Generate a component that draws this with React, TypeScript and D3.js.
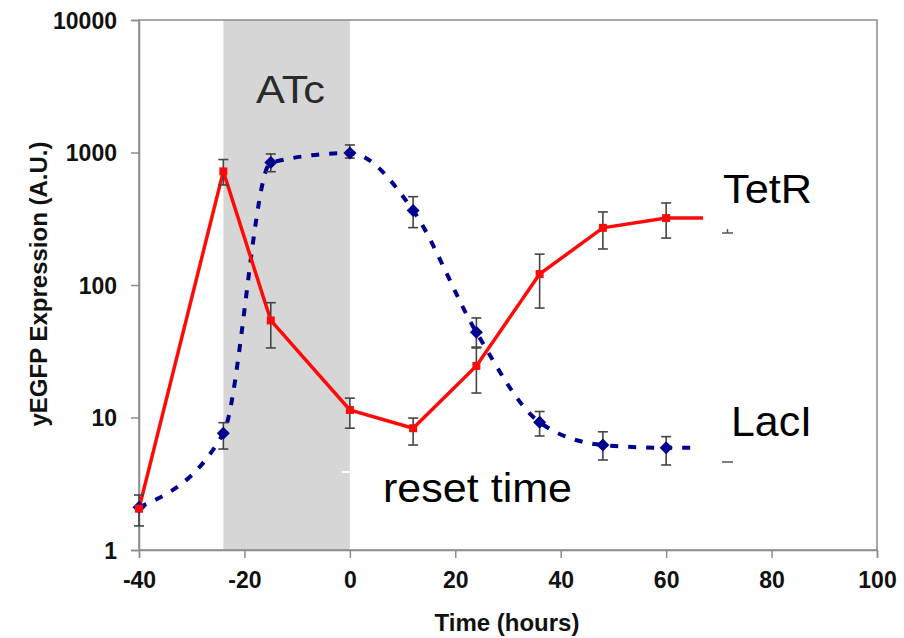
import React, { useEffect, useRef } from 'react'

import * as d3 from 'd3'

// hours, values
const tetRTime = [-40, -24, -15, 0, 12, 24, 36, 48, 60]
const tetRValue = [2.05, 720, 54, 11.4, 8.3, 24.5, 121, 270, 320]
const tetRLow = [1.52, 569, 33.5, 8.3, 6.2, 15.3, 67, 187, 226]
const tetRHigh = [2.6, 885, 73.5, 14.0, 9.9, 33.5, 171, 356, 416]

const lacITime = [-40, -24, -15, 0, 12, 24, 36, 48, 60]
const lacIValue = [2.1, 7.6, 840, 990, 365, 44, 9.2, 6.2, 5.9]
const lacILow = [null, 5.78, 716, 908, 271, 34, 7.25, 4.78, 4.38]
const lacIHigh = [null, 9.14, 975, 1140, 464, 56.4, 11.1, 7.8, 7.17]

// the lines run on a little past the last marker
const tetRTail = [67, 320]
const lacITail = [66, 5.9]

const xTicks = [-40, -20, 0, 20, 40, 60, 80, 100]
const yTicks = [1, 10, 100, 1000, 10000]
const atcWindow = [-24, 0]

const Chart = () => {
  const svgRef = useRef(null)

  useEffect(() => {
    if (!svgRef.current) return
    const svg = d3.select(svgRef.current)
    svg.selectAll('*').remove()

    const x = d3.scaleLinear().domain([-40, 100]).range([139, 877])
    const y = d3.scaleLog().domain([1, 10000]).range([550, 20])
    const font = "'Liberation Sans', Arial, sans-serif"
    const axisGray = '#8c8c8c'

    // ATc shading
    svg
      .append('rect')
      .attr('x', x(atcWindow[0]))
      .attr('y', y(10000))
      .attr('width', x(atcWindow[1]) - x(atcWindow[0]))
      .attr('height', y(1) - y(10000))
      .attr('fill', '#d6d6d6')

    // frame
    svg
      .append('rect')
      .attr('x', x(-40))
      .attr('y', y(10000))
      .attr('width', x(100) - x(-40))
      .attr('height', y(1) - y(10000))
      .attr('fill', 'none')
      .attr('stroke', axisGray)
      .attr('stroke-width', 1.5)

    const yAxis = d3
      .axisLeft(y)
      .tickValues(yTicks)
      .tickFormat((d) => String(d))
      .tickSize(8)
      .tickPadding(14)
    svg
      .append('g')
      .attr('transform', `translate(${x(-40)},0)`)
      .call(yAxis)
      .call((g) => g.select('.domain').attr('stroke', axisGray).attr('stroke-width', 1.5))
      .call((g) => g.selectAll('.tick line').attr('stroke', axisGray).attr('stroke-width', 1.5))
      .call((g) =>
        g
          .selectAll('.tick text')
          .attr('fill', '#111')
          .style('font-family', font)
          .style('font-size', '23px')
          .style('font-weight', 'bold')
          .attr('dy', '0.36em')
      )

    const xAxis = d3
      .axisBottom(x)
      .tickValues(xTicks)
      .tickFormat((d) => String(d))
      .tickSize(8)
      .tickPadding(14)
    svg
      .append('g')
      .attr('transform', `translate(0,${y(1)})`)
      .call(xAxis)
      .call((g) => g.select('.domain').attr('stroke', axisGray).attr('stroke-width', 1.5))
      .call((g) => g.selectAll('.tick line').attr('stroke', axisGray).attr('stroke-width', 1.5))
      .call((g) =>
        g
          .selectAll('.tick text')
          .attr('fill', '#111')
          .style('font-family', font)
          .style('font-size', '23px')
          .style('font-weight', 'bold')
      )

    svg
      .append('text')
      .attr('x', 507)
      .attr('y', 631)
      .attr('text-anchor', 'middle')
      .style('font-family', font)
      .style('font-size', '24px')
      .style('font-weight', 'bold')
      .attr('fill', '#111')
      .text('Time (hours)')

    svg
      .append('text')
      .attr('transform', 'translate(47,284) rotate(-90)')
      .attr('text-anchor', 'middle')
      .style('font-family', font)
      .style('font-size', '24px')
      .style('font-weight', 'bold')
      .attr('fill', '#111')
      .text('yEGFP Expression (A.U.)')

    const tetR = tetRTime.map((t, i) => ({ t, v: tetRValue[i], lo: tetRLow[i], hi: tetRHigh[i] }))
    const lacI = lacITime.map((t, i) => ({ t, v: lacIValue[i], lo: lacILow[i], hi: lacIHigh[i] }))

    // LacI: smoothed dashed navy line
    const lacLine = d3
      .line()
      .x((d) => x(d[0]))
      .y((d) => y(d[1]))
      .curve(d3.curveMonotoneX)
    svg
      .append('path')
      .datum([...lacI.map((d) => [d.t, d.v]), lacITail])
      .attr('d', lacLine)
      .attr('fill', 'none')
      .attr('stroke', '#00008f')
      .attr('stroke-width', 4)
      .attr('stroke-dasharray', '8,10')

    // TetR: straight red line
    const tetLine = d3
      .line()
      .x((d) => x(d[0]))
      .y((d) => y(d[1]))
    svg
      .append('path')
      .datum([...tetR.map((d) => [d.t, d.v]), tetRTail])
      .attr('d', tetLine)
      .attr('fill', 'none')
      .attr('stroke', '#ff0a0a')
      .attr('stroke-width', 3.5)

    // error bars
    const drawErrors = (data) => {
      const g = svg.append('g').attr('stroke', '#444').attr('stroke-width', 1.6)
      data
        .filter((d) => d.lo != null)
        .forEach((d) => {
          const cx = x(d.t)
          g.append('line').attr('x1', cx).attr('x2', cx).attr('y1', y(d.lo)).attr('y2', y(d.hi))
          g.append('line').attr('x1', cx - 5).attr('x2', cx + 5).attr('y1', y(d.lo)).attr('y2', y(d.lo))
          g.append('line').attr('x1', cx - 5).attr('x2', cx + 5).attr('y1', y(d.hi)).attr('y2', y(d.hi))
        })
    }
    drawErrors(lacI)
    drawErrors(tetR)

    // markers
    svg
      .append('g')
      .selectAll('path')
      .data(lacI)
      .join('path')
      .attr('transform', (d) => `translate(${x(d.t)},${y(d.v)})`)
      .attr('d', 'M0,-6.5L6.5,0L0,6.5L-6.5,0Z')
      .attr('fill', '#00008f')

    svg
      .append('g')
      .selectAll('rect')
      .data(tetR)
      .join('rect')
      .attr('x', (d) => x(d.t) - 4)
      .attr('y', (d) => y(d.v) - 4)
      .attr('width', 8)
      .attr('height', 8)
      .attr('fill', '#ff0a0a')

    // little legend leftovers
    svg.append('line').attr('x1', 722).attr('x2', 733).attr('y1', 233).attr('y2', 233).attr('stroke', '#555').attr('stroke-width', 1.5)
    svg.append('line').attr('x1', 727.5).attr('x2', 727.5).attr('y1', 229).attr('y2', 233).attr('stroke', '#555').attr('stroke-width', 1.5)
    svg.append('line').attr('x1', 722).attr('x2', 733).attr('y1', 462).attr('y2', 462).attr('stroke', '#555').attr('stroke-width', 1.5)
    svg.append('line').attr('x1', 342).attr('x2', 350).attr('y1', 472).attr('y2', 472).attr('stroke', '#fff').attr('stroke-width', 2)

    const label = (txt, px, py, size, color, len) => {
      const t = svg
        .append('text')
        .attr('x', px)
        .attr('y', py)
        .style('font-family', font)
        .style('font-size', `${size}px`)
        .attr('fill', color)
        .text(txt)
      if (len) t.attr('textLength', len).attr('lengthAdjust', 'spacingAndGlyphs')
      return t
    }

    label('ATc', 256, 103, 38, '#2a2a2a', 69)
    label('TetR', 723, 203, 41, '#000', 89)
    label('LacI', 731, 436, 42, '#000', 81)
    label('reset time', 383, 502, 40, '#000', 189)
  }, [])

  return <svg ref={svgRef} width={904} height={638} style={{ position: 'absolute', left: 0, top: 0, background: '#fff' }}></svg>
}

export default function App() {
  return <Chart />
}
